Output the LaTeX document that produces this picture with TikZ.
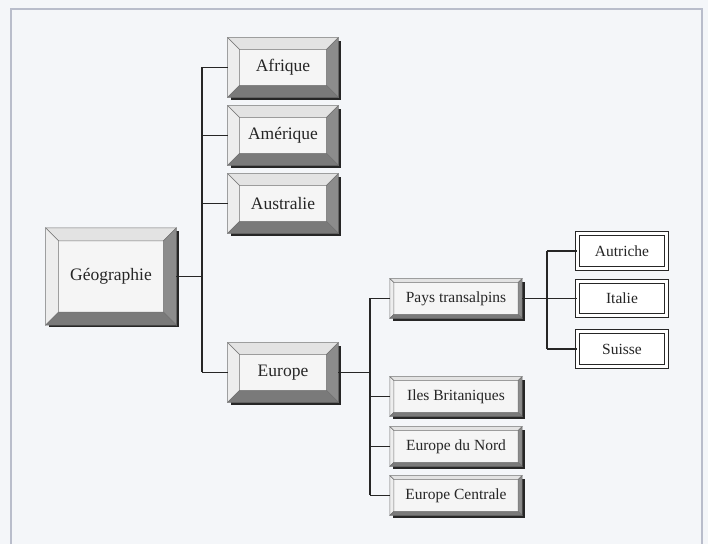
\documentclass[tikz,border=0pt]{standalone}
\usepackage{fontspec}
\setmainfont{Liberation Serif}
\usetikzlibrary{shadows}

\definecolor{paper}{HTML}{F4F6F9}
\definecolor{framecol}{HTML}{B9BDCB}

% the four sloping faces round a raised box
\newcommand\bevel[2]{%
  \path[bevelface=black!11] (#1.north west) -- (#1.north east) -- ([shift={(-#2,#2)}]#1.north east) -- ([shift={(#2,#2)}]#1.north west) -- cycle;
  \path[bevelface=black!7] (#1.north west) -- ([shift={(#2,#2)}]#1.north west) -- ([shift={(#2,-#2)}]#1.south west) -- (#1.south west) -- cycle;
  \path[bevelface=black!45] (#1.north east) -- (#1.south east) -- ([shift={(-#2,-#2)}]#1.south east) -- ([shift={(-#2,#2)}]#1.north east) -- cycle;
  \path[bevelface=black!52] (#1.south west) -- (#1.south east) -- ([shift={(-#2,-#2)}]#1.south east) -- ([shift={(#2,-#2)}]#1.south west) -- cycle;
}

\begin{document}
\begin{tikzpicture}[x=.6pt, y=-.6pt,
  conn/.style={draw=black!85, line width=.9pt},
  bevelface/.style={fill=#1, draw=black!55, line width=.3pt},
  bevelbox/.style={shape=rectangle, fill=black!4, inner sep=0pt, text=black!85,
    general shadow={fill=black!85, shadow xshift=1.6pt, shadow yshift=-1.6pt}},
  geobox/.style={bevelbox, minimum width=78pt, minimum height=58pt, font=\fontsize{10.5}{12}\selectfont},
  contbox/.style={bevelbox, minimum width=66pt, minimum height=35.4pt, font=\fontsize{10.5}{12}\selectfont},
  regbox/.style={bevelbox, minimum width=79pt, minimum height=23.4pt, font=\fontsize{9.3}{11}\selectfont},
  landbox/.style={shape=rectangle, draw=black!85, double=white, double distance=1.8pt, line width=.6pt,
    fill=white, text=black!85, minimum width=53pt, minimum height=20.5pt, font=\fontsize{9.3}{11}\selectfont}]

  \fill[paper] (0,0) rectangle (708,544);
  \draw[framecol, line width=.9pt] (11,544) -- (11,9) -- (702,9) -- (702,544);

  \node[geobox] (geo) at (111,276.5) {Géographie};

  \node[contbox] (afr) at (283,67.5)  {Afrique};
  \node[contbox] (ame) at (283,135.5) {Amérique};
  \node[contbox] (aus) at (283,203.5) {Australie};
  \node[contbox] (eur) at (283,372.5) {Europe};

  \node[regbox] (tra) at (456,298.5) {Pays transalpins};
  \node[regbox] (bri) at (456,396.5) {Iles Britaniques};
  \node[regbox] (nor) at (456,446.5) {Europe du Nord};
  \node[regbox] (cen) at (456,495.5) {Europe Centrale};

  \node[landbox] (aut) at (622,251)   {Autriche};
  \node[landbox] (ita) at (622,298.5) {Italie};
  \node[landbox] (sui) at (622,349)   {Suisse};

  \foreach \n/\d in {geo/13, afr/12, ame/12, aus/12, eur/12, tra/4, bri/4, nor/4, cen/4}
    {\bevel{\n}{\d}}

  % trunks of the tree
  \coordinate (t1) at (202,0);
  \coordinate (t2) at (370,0);
  \coordinate (t3) at (547,0);

  \draw[conn] (geo.east) -- (geo.east -| t1);
  \draw[conn] (t1 |- afr) -- (t1 |- eur);
  \foreach \n in {afr,ame,aus,eur}
    \draw[conn] (t1 |- \n) -- (\n.west);

  \draw[conn] (eur.east) -- (eur.east -| t2);
  \draw[conn] (t2 |- tra) -- (t2 |- cen);
  \foreach \n in {tra,bri,nor,cen}
    \draw[conn] (t2 |- \n) -- (\n.west);

  \draw[conn] (tra.east) -- (tra.east -| t3);
  \draw[conn] (t3 |- aut) -- (t3 |- sui);
  \foreach \n in {aut,ita,sui}
    \draw[conn] (t3 |- \n) -- (\n.west);
\end{tikzpicture}
\end{document}
